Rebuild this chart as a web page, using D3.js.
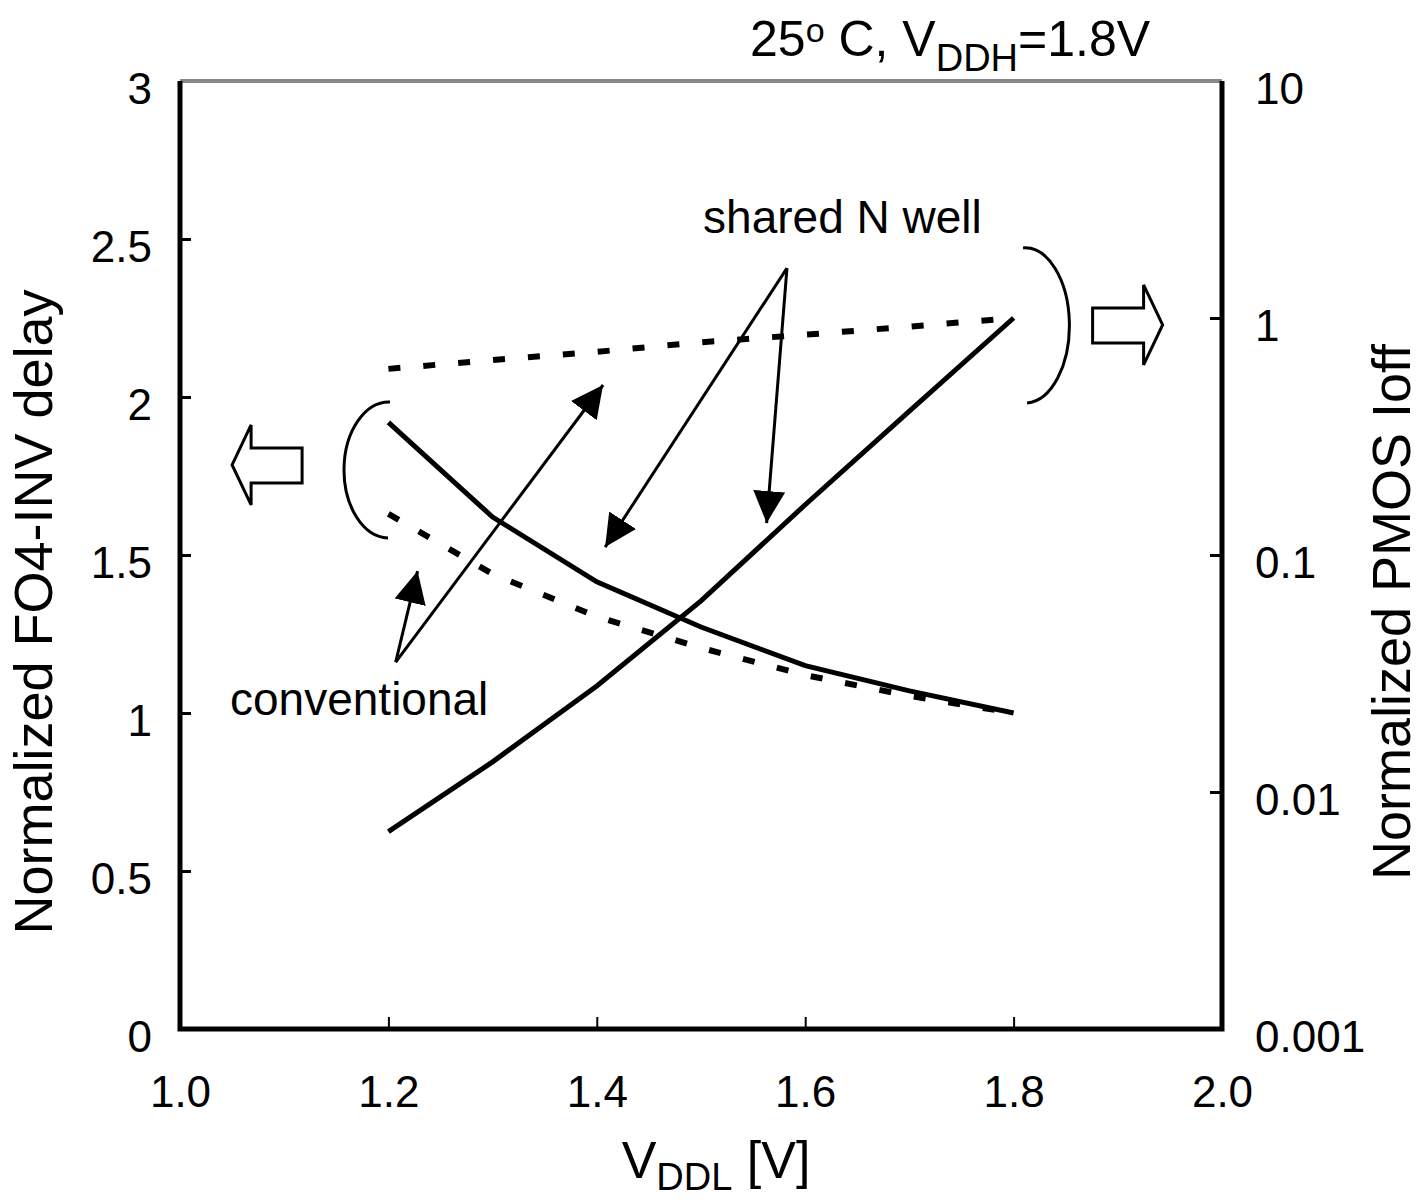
<!DOCTYPE html>
<html>
<head>
<meta charset="utf-8">
<script src="https://cdn.jsdelivr.net/npm/d3@7"></script>
<style>
    body { margin: 0; background: #fff; }
    text { font-family: "Liberation Sans", Arial, sans-serif; fill: #000; }
</style>
</head>
<body>
<div id="chart"></div>
<script>
// VDDL sweep points
const vddl = [1.2, 1.3, 1.4, 1.5, 1.6, 1.7, 1.8];

// normalized FO4-INV delay (left axis)
const delayShared = [1.92, 1.62, 1.415, 1.272, 1.15, 1.07, 1.0];
const delayConv = [1.63, 1.44, 1.305, 1.206, 1.12, 1.054, 1.0];

// normalized PMOS Ioff (right axis, log)
const ioffShared = [0.0068, 0.0134, 0.028, 0.064, 0.163, 0.405, 1.0];
const ioffConv = [0.61, 0.665, 0.72, 0.79, 0.85, 0.92, 1.0];

// tick values / labels
const xTicks = [1.0, 1.2, 1.4, 1.6, 1.8, 2.0];
const leftTicks = [0, 0.5, 1, 1.5, 2, 2.5, 3];
const rightTicks = [0.001, 0.01, 0.1, 1, 10];
const rightTickLabels = ["0.001", "0.01", "0.1", "1", "10"];

class DelayLeakVis {

    constructor(parentElement) {
        this.parentElement = parentElement;
        this.initVis();
    }

    initVis() {
        let vis = this;

        vis.margin = {top: 81, right: 198, bottom: 171, left: 180};
        vis.width = 1420 - vis.margin.left - vis.margin.right;
        vis.height = 1200 - vis.margin.top - vis.margin.bottom;

        vis.root = d3.select("#" + vis.parentElement)
            .append("svg")
            .attr("width", 1420)
            .attr("height", 1200);

        vis.svg = vis.root.append("g")
            .attr("transform", "translate(" + vis.margin.left + "," + vis.margin.top + ")");

        vis.x = d3.scaleLinear().domain([1, 2]).range([0, vis.width]);
        vis.yL = d3.scaleLinear().domain([0, 3]).range([vis.height, 0]);
        vis.yR = d3.scaleLog().domain([0.001, 10]).range([vis.height, 0]);

        vis.drawAxes();
        vis.drawLines();
        vis.drawAnnotations();
    }

    drawAxes() {
        let vis = this;

        let xAxis = d3.axisBottom(vis.x)
            .tickValues(xTicks)
            .tickSize(-12)
            .tickPadding(47)
            .tickFormat(d3.format(".1f"));

        let gx = vis.svg.append("g")
            .attr("transform", "translate(0," + vis.height + ")")
            .call(xAxis);

        let leftAxis = d3.axisLeft(vis.yL)
            .tickValues(leftTicks)
            .tickSize(-11)
            .tickPadding(28)
            .tickFormat(d => d3.format("")(d));

        let gl = vis.svg.append("g").call(leftAxis);

        let rightAxis = d3.axisRight(vis.yR)
            .tickValues(rightTicks)
            .tickSize(-12)
            .tickPadding(33)
            .tickFormat((d, i) => rightTickLabels[i]);

        let gr = vis.svg.append("g")
            .attr("transform", "translate(" + vis.width + ",0)")
            .call(rightAxis);

        [gx, gl, gr].forEach(g => {
            g.select(".domain").remove();
            g.selectAll("text")
                .style("font-size", "44px")
                .style("font-family", "'Liberation Sans', Arial, sans-serif")
                .attr("fill", "#000");
        });
        gx.selectAll("line").attr("stroke-width", 2);
        gl.selectAll("line").attr("stroke-width", 3);
        gr.selectAll("line").attr("stroke-width", 3);
        gl.selectAll("text").attr("dy", "0.5em");
        gr.selectAll("text").attr("dy", "0.5em");

        // frame: grey top, black on the other sides
        vis.svg.append("line")
            .attr("x1", 0).attr("x2", vis.width)
            .attr("y1", 0).attr("y2", 0)
            .attr("stroke", "#888").attr("stroke-width", 4);
        vis.svg.append("path")
            .attr("d", "M0,0V" + vis.height + "H" + vis.width + "V0")
            .attr("fill", "none")
            .attr("stroke", "#000")
            .attr("stroke-width", 5)
            .attr("stroke-linejoin", "miter");

        // axis titles
        vis.root.append("text")
            .attr("transform", "translate(52,612) rotate(-90)")
            .attr("text-anchor", "middle")
            .style("font-size", "54px")
            .text("Normalized FO4-INV delay");

        vis.root.append("text")
            .attr("transform", "translate(1410,612) rotate(-90)")
            .attr("text-anchor", "middle")
            .style("font-size", "54px")
            .text("Normalized PMOS Ioff");

        let xt = vis.root.append("text")
            .attr("x", 716)
            .attr("y", 1178)
            .attr("text-anchor", "middle")
            .style("font-size", "52px");
        xt.append("tspan").text("V");
        xt.append("tspan").attr("dy", 12).style("font-size", "38px").text("DDL");
        xt.append("tspan").attr("dy", -12).text(" [V]");

        // condition label above the frame
        let tt = vis.root.append("text")
            .attr("x", 750)
            .attr("y", 56)
            .style("font-size", "50px");
        tt.append("tspan").text("25");
        tt.append("tspan").attr("dy", -14).style("font-size", "34px").text("o");
        tt.append("tspan").attr("dy", 14).text(" C, V");
        tt.append("tspan").attr("dy", 15).style("font-size", "38px").text("DDH");
        tt.append("tspan").attr("dy", -15).text("=1.8V");
    }

    drawLines() {
        let vis = this;

        let lineL = d3.line()
            .x(d => vis.x(d[0]))
            .y(d => vis.yL(d[1]));
        let lineR = d3.line()
            .x(d => vis.x(d[0]))
            .y(d => vis.yR(d[1]));

        let series = [
            {vals: delayShared, line: lineL, dash: null, w: 5},
            {vals: delayConv, line: lineL, dash: "12,23", w: 6},
            {vals: ioffShared, line: lineR, dash: null, w: 5},
            {vals: ioffConv, line: lineR, dash: "12,23", w: 6}
        ];

        vis.svg.selectAll(".curve")
            .data(series)
            .enter()
            .append("path")
            .attr("class", "curve")
            .attr("d", s => s.line(vddl.map((v, i) => [v, s.vals[i]])))
            .attr("fill", "none")
            .attr("stroke", "#000")
            .attr("stroke-width", s => s.w)
            .attr("stroke-dasharray", s => s.dash);
    }

    drawAnnotations() {
        let vis = this;
        let X = vis.x, Y = vis.yL;

        vis.svg.append("defs").append("marker")
            .attr("id", "head")
            .attr("viewBox", "0 0 10 10")
            .attr("refX", 10).attr("refY", 5)
            .attr("markerWidth", 32).attr("markerHeight", 32)
            .attr("markerUnits", "userSpaceOnUse")
            .attr("orient", "auto")
            .append("path")
            .attr("d", "M0,0L10,5L0,10z")
            .attr("fill", "#000");

        // arrows: [fromX, fromY, toX, toY] in data units (left axis)
        let arrows = [
            [1.5825, 2.408, 1.408, 1.525],
            [1.5825, 2.408, 1.563, 1.601],
            [1.207, 1.161, 1.228, 1.449],
            [1.207, 1.161, 1.406, 2.038]
        ];
        vis.svg.selectAll(".pointer")
            .data(arrows)
            .enter()
            .append("line")
            .attr("class", "pointer")
            .attr("x1", d => X(d[0])).attr("y1", d => Y(d[1]))
            .attr("x2", d => X(d[2])).attr("y2", d => Y(d[3]))
            .attr("stroke", "#000")
            .attr("stroke-width", 3)
            .attr("marker-end", "url(#head)");

        vis.svg.append("text")
            .attr("x", X(1.502)).attr("y", Y(2.519))
            .style("font-size", "46px")
            .text("shared N well");
        vis.svg.append("text")
            .attr("x", X(1.048)).attr("y", Y(0.994))
            .style("font-size", "46px")
            .text("conventional");

        // brackets grouping the curves
        let lb = [X(1.1996), Y(1.769)];
        vis.svg.append("path")
            .attr("d", "M" + (lb[0] + 2) + "," + (lb[1] - 68) + "A45,68 0 0 0 " + lb[0] + "," + (lb[1] + 68))
            .attr("fill", "none").attr("stroke", "#000").attr("stroke-width", 3);
        let rb = [X(1.811), Y(2.228)];
        vis.svg.append("path")
            .attr("d", "M" + (rb[0] - 2) + "," + (rb[1] - 77) + "A44,77 0 0 1 " + (rb[0] + 2) + "," + (rb[1] + 78))
            .attr("fill", "none").attr("stroke", "#000").attr("stroke-width", 3);

        // hollow block arrows pointing to the axis each group belongs to
        let leftTip = [X(1.05), Y(1.785)];
        let leftShape = [[0, 0], [19, -40], [19, -17], [70, -17], [70, 18], [19, 18], [19, 40]];
        vis.svg.append("polygon")
            .attr("points", leftShape.map(p => [leftTip[0] + p[0], leftTip[1] + p[1]].join(",")).join(" "))
            .attr("fill", "#fff").attr("stroke", "#000").attr("stroke-width", 3);

        let rightTip = [X(1.943), Y(2.228)];
        vis.svg.append("polygon")
            .attr("points", leftShape.map(p => [rightTip[0] - p[0], rightTip[1] + p[1]].join(",")).join(" "))
            .attr("fill", "#fff").attr("stroke", "#000").attr("stroke-width", 3);
    }
}

new DelayLeakVis("chart");
</script>
</body>
</html>
